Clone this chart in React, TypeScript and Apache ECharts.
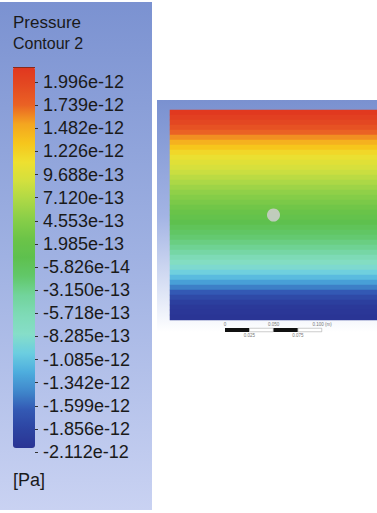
import React, { useEffect, useRef } from "react";
import * as echarts from "echarts";

// Legend (colour bar) tick labels, top to bottom
const legendLabels = [
  "1.996e-12", "1.739e-12", "1.482e-12", "1.226e-12", "9.688e-13", "7.120e-13",
  "4.553e-13", "1.985e-13", "-5.826e-14", "-3.150e-13", "-5.718e-13", "-8.285e-13",
  "-1.085e-12", "-1.342e-12", "-1.599e-12", "-1.856e-12", "-2.112e-12",
];
const pressureMin = -2.112e-12;
const pressureMax = 1.996e-12;

// Colour map, from minimum (bottom) to maximum (top)
const colorMap = [
  "#2a3494", "#2d44a2", "#3359b4", "#4088cc", "#4eaede", "#6ccee0", "#86dec8",
  "#7edab6", "#72d49c", "#62c86a", "#5ec04e", "#6cc448", "#88ce48", "#acd846",
  "#d2e03e", "#eee030", "#f6c61c", "#f4a620", "#ea6224", "#e44a22", "#e0361f",
];

// Pressure per horizontal band of the domain, top to bottom (x1e-12 Pa)
const rowPressure = [
  1.963, 1.893, 1.823, 1.721, 1.585, 1.45, 1.31, 1.174, 1.039, 0.936, 0.866,
  0.797, 0.723, 0.64, 0.558, 0.476, 0.398, 0.328, 0.254, 0.184, 0.106, 0.024,
  -0.058, -0.14, -0.218, -0.288, -0.362, -0.432, -0.539, -0.674, -0.81, -0.941,
  -1.064, -1.208, -1.373, -1.537, -1.701, -1.845, -1.968, -2.042, -2.071, -2.1,
];
const rowScale = 1e-12;
const columnIds = ["domain"];

// Cylinder centre (m) and domain half-extent (m)
const cylinderCenter = [[0, 0]];
const domainHalfX = 0.1065;
const domainHalfY = 0.108;

// Scale bar segments (m)
const scaleSegments = [0.025, 0.025, 0.025, 0.025];
const scaleColors = ["#111111", "#ffffff", "#111111", "#ffffff"];

export default function App() {
  const ref = useRef<HTMLDivElement>(null);

  useEffect(() => {
    if (!ref.current) return;
    const chart = echarts.init(ref.current, undefined, { renderer: "svg" });
    const font = "Liberation Sans, Arial, sans-serif";
    const rowIds = rowPressure.map((_, i) => String(i));

    const option: any = {
      animation: false,
      graphic: [
        {
          type: "rect",
          z: -10,
          shape: { x: 0, y: 2, width: 152, height: 508 },
          style: {
            fill: {
              type: "linear", x: 0, y: 0, x2: 0, y2: 1,
              colorStops: [
                { offset: 0, color: "#7b92d1" },
                { offset: 0.5, color: "#9fb1e2" },
                { offset: 1, color: "#c9d2f2" },
              ],
            },
          },
        },
        {
          type: "rect",
          z: -10,
          shape: { x: 157, y: 100, width: 220, height: 232 },
          style: {
            fill: {
              type: "linear", x: 0, y: 0, x2: 0, y2: 1,
              colorStops: [
                { offset: 0, color: "#7a91d0" },
                { offset: 0.5, color: "#a3b4e4" },
                { offset: 0.85, color: "#e2e8f7" },
                { offset: 1, color: "#ffffff" },
              ],
            },
          },
        },
        {
          type: "rect",
          z: 10,
          shape: { x: 13, y: 67, width: 22, height: 1 },
          style: { fill: "#8a2a1a" },
        },
        {
          type: "text",
          z: 10,
          x: 13,
          y: 22,
          style: { text: "Pressure", fontSize: 17, fontFamily: font, fill: "#1a1a1a", verticalAlign: "middle" },
        },
        {
          type: "text",
          z: 10,
          x: 13,
          y: 43,
          style: { text: "Contour 2", fontSize: 16, fontFamily: font, fill: "#1a1a1a", verticalAlign: "middle" },
        },
        {
          type: "text",
          z: 10,
          x: 13,
          y: 480,
          style: { text: "[Pa]", fontSize: 18, fontFamily: font, fill: "#1a1a1a", verticalAlign: "middle" },
        },
      ],
      grid: [
        { left: 35, top: 82, width: 20, height: 370 },
        { left: 170, top: 110, width: 207, height: 210 },
        { left: 170, top: 110, width: 207, height: 210 },
        { left: 225, top: 328, width: 97, height: 4 },
      ],
      xAxis: [
        { gridIndex: 0, type: "value", show: false },
        { gridIndex: 1, type: "category", data: columnIds, show: false },
        { gridIndex: 2, type: "value", min: -domainHalfX, max: domainHalfX, show: false },
        {
          gridIndex: 3, type: "value", min: 0, max: 0.1, interval: 0.025, position: "bottom",
          axisLine: { show: false }, axisTick: { show: false }, splitLine: { show: false },
          axisLabel: {
            margin: 1, fontSize: 4.5, color: "#777", fontFamily: font,
            formatter: (v: number) =>
              Math.abs(v - 0.025) < 1e-9 || Math.abs(v - 0.075) < 1e-9 ? v.toFixed(3) : "",
          },
        },
        {
          gridIndex: 3, type: "value", min: 0, max: 0.1, interval: 0.05, position: "top",
          axisLine: { show: false }, axisTick: { show: false }, splitLine: { show: false },
          axisLabel: {
            margin: 1, fontSize: 4.5, color: "#777", fontFamily: font,
            formatter: (v: number) => (v === 0 ? "0" : v > 0.099 ? "0.100 (m)" : v.toFixed(3)),
          },
        },
      ],
      yAxis: [
        {
          gridIndex: 0, type: "category", data: legendLabels, inverse: true, boundaryGap: false,
          position: "left", z: 5,
          axisLine: { show: false },
          axisTick: { show: true, inside: true, interval: 0, length: 3, lineStyle: { color: "#333", width: 1 } },
          axisLabel: { inside: true, interval: 0, margin: 8, fontSize: 18, color: "#1a1a1a", fontFamily: font },
          splitLine: { show: false },
        },
        { gridIndex: 1, type: "category", data: rowIds, inverse: true, show: false },
        { gridIndex: 2, type: "value", min: -domainHalfY, max: domainHalfY, show: false },
        { gridIndex: 3, type: "category", data: ["bar"], show: false },
      ],
      visualMap: {
        type: "continuous",
        min: pressureMin,
        max: pressureMax,
        seriesIndex: 0,
        left: 13,
        top: 67,
        padding: 0,
        itemWidth: 22,
        itemHeight: 381,
        calculable: false,
        hoverLink: false,
        inRange: { color: colorMap },
      },
      series: [
        {
          type: "heatmap",
          xAxisIndex: 1,
          yAxisIndex: 1,
          data: rowPressure.map((v, i) => [0, i, v * rowScale]),
          itemStyle: { borderWidth: 0 },
          emphasis: { disabled: true },
          progressive: 0,
        },
        {
          type: "scatter",
          xAxisIndex: 2,
          yAxisIndex: 2,
          data: cylinderCenter,
          symbolSize: 13,
          z: 5,
          itemStyle: { color: "#d6ced8" },
          emphasis: { disabled: true },
        },
        ...scaleSegments.map((s, i) => ({
          type: "bar",
          xAxisIndex: 3,
          yAxisIndex: 3,
          stack: "scale",
          barWidth: "100%",
          data: [s],
          itemStyle: {
            color: scaleColors[i],
            borderColor: i % 2 === 1 ? "#999" : scaleColors[i],
            borderWidth: i % 2 === 1 ? 0.5 : 0,
          },
          emphasis: { disabled: true },
        })),
      ],
    };

    chart.setOption(option);
    return () => chart.dispose();
  }, []);

  return (
    <div
      ref={ref}
      style={{ position: "absolute", left: 0, top: 0, width: 377, height: 513 }}
    />
  );
}
